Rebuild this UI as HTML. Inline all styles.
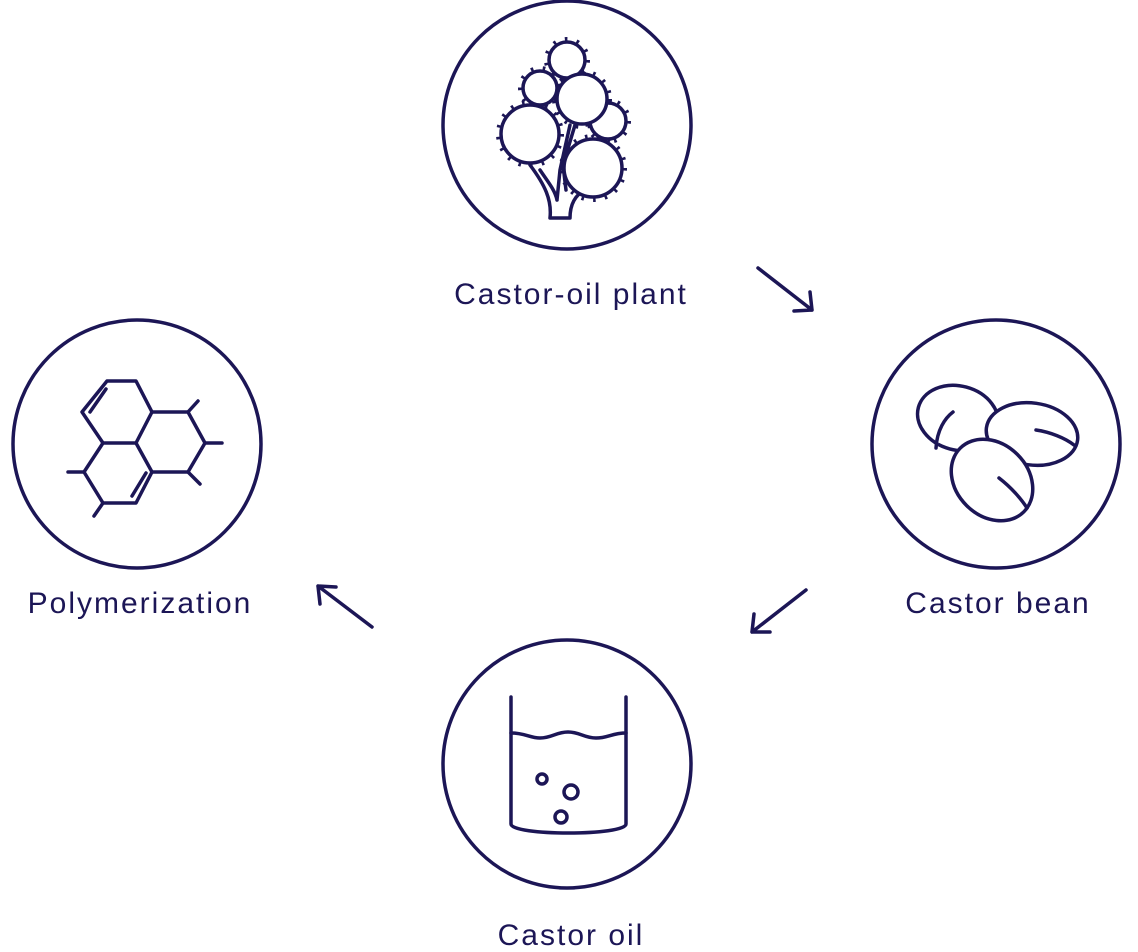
<!DOCTYPE html>
<html><head><style>
html,body{margin:0;padding:0;background:#fff}
svg{display:block}
text{font-family:"Liberation Sans",sans-serif;font-size:30px;fill:#1c1656;letter-spacing:2px}
</style></head><body>
<svg width="1138" height="952" viewBox="0 0 1138 952" xmlns="http://www.w3.org/2000/svg">
<g fill="none" stroke="#1c1656" stroke-width="3.5" stroke-linecap="round" stroke-linejoin="round">
<circle cx="567" cy="125" r="124"/>
<circle cx="996" cy="444" r="124"/>
<circle cx="137" cy="444" r="124"/>
<circle cx="567" cy="764" r="124"/>
<!-- arrows -->
<path d="M758 268 L812 310 M794 311 L812 310 L810 292"/>
<path d="M806 590 L752 632 M754 614 L752 632 L770 632"/>
<path d="M372 627 L318 586 M320 604 L318 586 L336 587"/>
<!-- plant trunk -->
<path d="M550 218 L570 218 M550 218 C552 200 545 185 530 165 M570 218 C570 205 575 195 585 190 M540 170 C548 182 555 190 557 200 M557 200 L560 170 L570 125 M566 190 L563 165 L575 125"/>
<g stroke-width="6" stroke-dasharray="2.5 9" stroke-linecap="butt">
<circle cx="567" cy="60" r="20"/>
<circle cx="540" cy="88" r="19"/>
<circle cx="608" cy="121" r="20"/>
<circle cx="582" cy="99" r="27"/>
<circle cx="530" cy="134" r="31"/>
<circle cx="593" cy="168" r="31"/>
</g>
<g fill="#fff">
<circle cx="567" cy="60" r="18"/>
<circle cx="540" cy="88" r="17"/>
<circle cx="608" cy="121" r="18"/>
<circle cx="582" cy="99" r="25"/>
<circle cx="530" cy="134" r="29"/>
<circle cx="593" cy="168" r="29"/>
</g>
<!-- beans -->
<g fill="#fff">
<ellipse cx="958" cy="418" rx="41" ry="32" transform="rotate(15 958 418)"/>
<path d="M936 448 C937 430 945 418 953 412"/>
<ellipse cx="1032" cy="434" rx="46" ry="31" transform="rotate(8 1032 434)"/>
<path d="M1036 430 C1050 432 1065 438 1074 445"/>
<ellipse cx="992" cy="480" rx="45" ry="36" transform="rotate(45 992 480)"/>
<path d="M999 478 C1012 488 1022 500 1027 508"/>
</g>
<!-- polymer -->
<path d="M107 381 L136 381 L152 412 L136 443 L103 443 L82 412 Z"/>
<path d="M152 412 L188 412 L205 443 L188 472 L152 472 L136 443"/>
<path d="M103 443 L84 472 L103 503 L136 503 L152 472"/>
<path d="M188 412 L198 401 M205 443 L222 443 M188 472 L200 484 M84 472 L68 472 M103 503 L94 516"/>
<path d="M90 412 L106 389 M132 496 L146 473"/>
<!-- beaker -->
<path d="M511 697 L511 824 C511 836 626 836 626 824 L626 697"/>
<path d="M511 733 C525 733 530 738 540 738 C552 738 556 732 568 732 C580 732 584 738 596 738 C608 738 612 733 626 733"/>
<circle cx="542" cy="779" r="5"/>
<circle cx="571" cy="792" r="7"/>
<circle cx="561" cy="817" r="6"/>
</g>
<text x="571" y="304" text-anchor="middle">Castor-oil plant</text>
<text x="998" y="613" text-anchor="middle">Castor bean</text>
<text x="140" y="613" text-anchor="middle">Polymerization</text>
<text x="571" y="945" text-anchor="middle">Castor oil</text>
</svg>
</body></html>
